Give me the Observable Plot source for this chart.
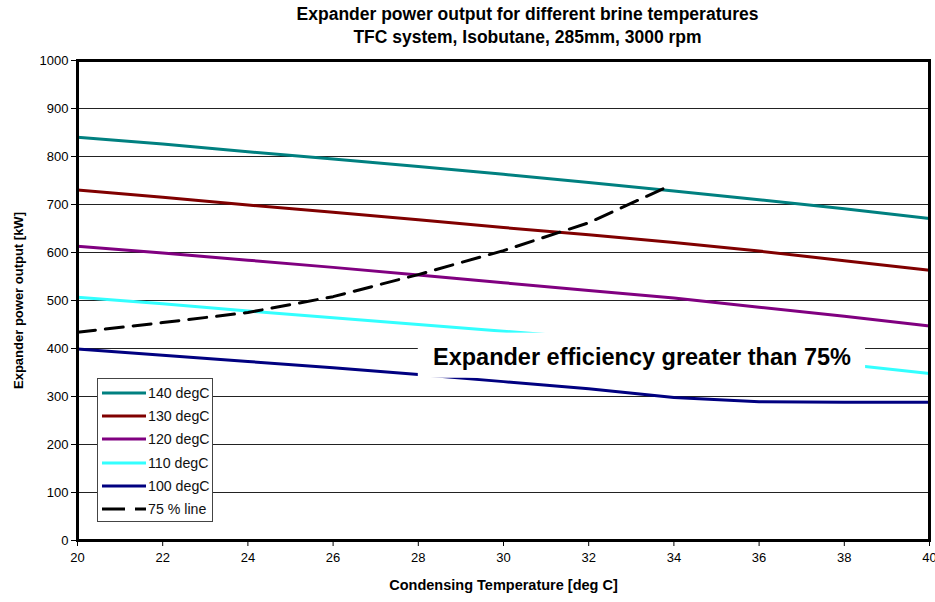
<!DOCTYPE html>
<html>
<head>
<meta charset="utf-8">
<script src="https://cdn.jsdelivr.net/npm/d3@7"></script>
<script src="https://cdn.jsdelivr.net/npm/@observablehq/plot@0.6"></script>
<style>
  body { margin: 0; background: #fff; font-family: Arial, "Liberation Sans", sans-serif; }
  #wrap { position: relative; width: 935px; height: 602px; }
  #title { position: absolute; left: 60px; width: 935px; top: 3px; text-align: center;
           font-weight: bold; font-size: 17.5px; line-height: 23px; color: #000; }
  #chart { position: absolute; left: 0; top: 50px; }
  #legend { position: absolute; left: 97px; top: 378px; width: 114px; height: 142px;
            border: 1px solid #444; background: #fff; font-size: 14.2px; }
  .row { position: absolute; left: 0; height: 20px; display: flex; align-items: center; }
  .row svg { display: block; margin-left: 4px; }
  .row span { margin-left: 2px; color: #111; }
</style>
</head>
<body>
<div id="wrap">
  <div id="title">Expander power output for different brine temperatures<br>TFC system, Isobutane, 285mm, 3000 rpm</div>
  <div id="chart"></div>
  <div id="legend"></div>
</div>
<script>
// Condensing temperature (deg C)
const condTemp = [20, 22, 24, 26, 28, 30, 32, 34, 36, 38, 40];

// Expander power output (kW) per brine temperature
const brineLabels = ["140 degC", "130 degC", "120 degC", "110 degC", "100 degC"];
const brineColors = ["#008080", "#800000", "#800080", "#33ffff", "#000080"];
const power140 = [840, 826, 810, 795, 779, 763, 746, 728, 710, 691, 671];
const power130 = [730, 715, 699, 684, 668, 652, 637, 621, 603, 583, 563];
const power120 = [613, 599, 584, 569, 553, 537, 521, 505, 486, 467, 447];
const power110 = [507, 493, 478, 464, 450, 436, 422, 404, 386, 367, 348];
const power100 = [399, 386, 373, 360, 346, 331, 316, 298, 289, 288, 288];

// 75 % expander efficiency boundary
const lineLabel = "75 % line";
const line75Temp  = [20, 22, 24, 26, 28, 30, 32, 33.75];
const line75Power = [434, 454, 475, 508, 554, 604, 662, 733];

// Annotation text and its backing box (data units)
const noteText = "Expander efficiency greater than 75%";
const noteAt = {x: 33.25, y: 382};
const noteBox = {x1: 28, x2: 38.5, y1: 338, y2: 432};

const xTicks = [20, 22, 24, 26, 28, 30, 32, 34, 36, 38, 40];
const yTicks = [0, 100, 200, 300, 400, 500, 600, 700, 800, 900, 1000];

const series = [power140, power130, power120, power110, power100];
const rows = series.flatMap((vals, i) =>
  vals.map((v, j) => ({temp: condTemp[j], power: v, brine: brineLabels[i]})));
const rows75 = line75Temp.map((t, j) => ({temp: t, power: line75Power[j]}));

const chart = Plot.plot({
  width: 935,
  height: 552,
  marginLeft: 77,
  marginRight: 6,
  marginTop: 10,
  marginBottom: 62,
  style: {fontFamily: "Arial, 'Liberation Sans', sans-serif", fontSize: "13px", color: "#000", overflow: "visible"},
  x: {domain: [20, 40], label: null},
  y: {domain: [0, 1000], label: null},
  color: {domain: brineLabels, range: brineColors},
  marks: [
    Plot.gridY(yTicks, {stroke: "#222", strokeOpacity: 1, strokeWidth: 1}),
    Plot.line(rows, {x: "temp", y: "power", z: "brine", stroke: "brine", strokeWidth: 3}),
    Plot.line(rows75, {x: "temp", y: "power", stroke: "#000", strokeWidth: 3, strokeDasharray: "18,10"}),
    Plot.rect([noteBox], {x1: "x1", x2: "x2", y1: "y1", y2: "y2", fill: "#fff"}),
    Plot.text([noteAt], {x: "x", y: "y", text: () => noteText, fontSize: 23.5, fontWeight: "bold", fill: "#000"}),
    Plot.axisX({ticks: xTicks, tickSize: 6, tickPadding: 6, fontSize: 13, tickFormat: d => String(d)}),
    Plot.axisY({ticks: yTicks, tickSize: 6, tickPadding: 3, fontSize: 13, tickFormat: d => String(d)}),
    Plot.frame({stroke: "#000", strokeWidth: 3}),
    Plot.text(["Condensing Temperature [deg C]"], {
      frameAnchor: "bottom", dy: 49, text: d => d, fontWeight: "bold", fontSize: 14.5
    }),
    Plot.text(["Expander power output [kW]"], {
      frameAnchor: "left", dx: -59, rotate: -90, textAnchor: "middle",
      text: d => d, fontWeight: "bold", fontSize: 13
    })
  ]
});
document.getElementById("chart").append(chart);

// Legend box
const legend = document.getElementById("legend");
const legendItems = brineLabels.map((l, i) => ({label: l, color: brineColors[i], dash: null}))
  .concat([{label: lineLabel, color: "#000", dash: "23,10"}]);
legendItems.forEach((item, i) => {
  const row = document.createElement("div");
  row.className = "row";
  row.style.top = (4 + i * 23.2) + "px";
  const s = d3.create("svg").attr("width", 44).attr("height", 20);
  s.append("line").attr("x1", 0).attr("x2", 44).attr("y1", 10).attr("y2", 10)
    .attr("stroke", item.color).attr("stroke-width", 3)
    .attr("stroke-dasharray", item.dash);
  row.append(s.node());
  const t = document.createElement("span");
  t.textContent = item.label;
  row.append(t);
  legend.append(row);
});
</script>
</body>
</html>
